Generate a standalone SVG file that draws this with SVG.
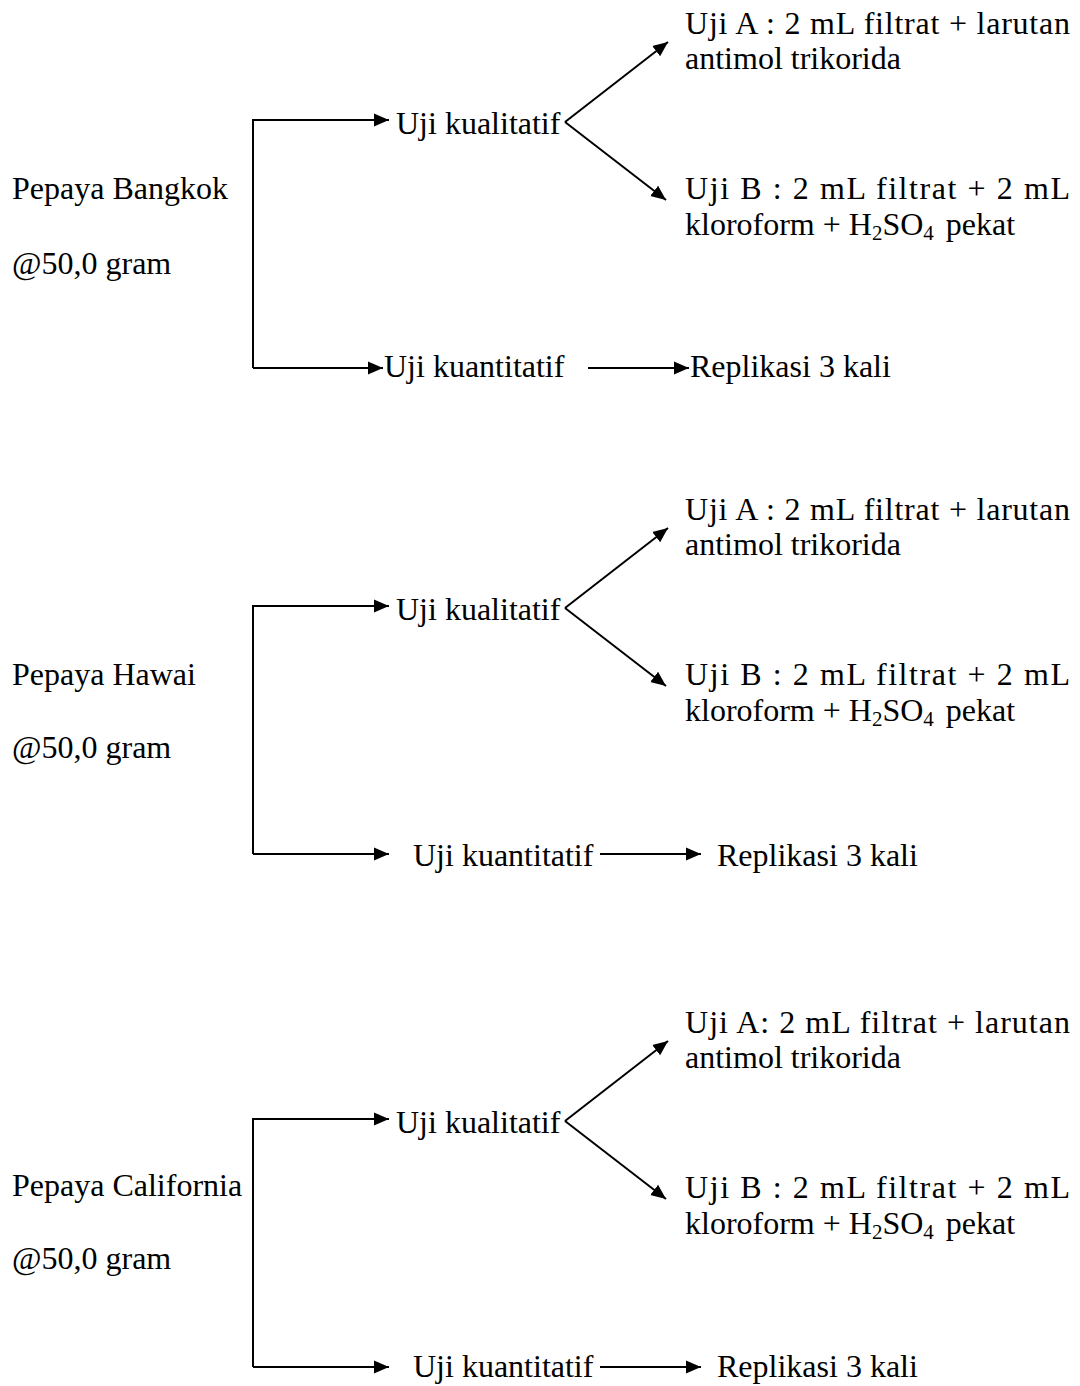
<svg xmlns="http://www.w3.org/2000/svg" width="1080" height="1386" viewBox="0 0 1080 1386">
<style>
text{font-family:"Liberation Serif","Times New Roman",serif;font-size:32px;fill:#000}
.sub{font-size:21px}
.c{fill:none;stroke:#000;stroke-width:2;marker-end:url(#ah)}
</style>
<defs>
<marker id="ah" markerUnits="userSpaceOnUse" markerWidth="16" markerHeight="14" refX="15" refY="7" orient="auto"><path d="M0,0.5 L15,7 L0,13.5 z" fill="#000"/></marker>
</defs>
<rect width="1080" height="1386" fill="#fff"/>

<!-- Panel 1 -->
<g id="panel1">
<g id="connectors1">
<path class="c" d="M253,368 V120 H389"/>
<path class="c" d="M253,368 H383"/>
<path class="c" d="M588,368 H689"/>
<path class="c" d="M565,122 L668,42"/>
<path class="c" d="M565,122 L666,200"/>
</g>
<g id="bangkok"><text x="12" y="199">Pepaya Bangkok</text><text x="12" y="274">@50,0 gram</text></g>
<g id="kualitatif1"><text x="396" y="134">Uji kualitatif</text></g>
<g id="ujiA1"><text x="685" y="34" textLength="385" lengthAdjust="spacing">Uji A : 2 mL filtrat + larutan</text><text x="685" y="69">antimol trikorida</text></g>
<g id="ujiB1"><text x="685" y="199" textLength="385" lengthAdjust="spacing">Uji B : 2 mL filtrat + 2 mL</text><text x="685" y="235">kloroform + H<tspan class="sub" dy="5">2</tspan><tspan dy="-5">SO</tspan><tspan class="sub" dy="5">4</tspan><tspan dy="-5" dx="12">pekat</tspan></text></g>
<g id="kuantitatif1"><text x="384" y="377">Uji kuantitatif</text></g>
<g id="replikasi1"><text x="690" y="377">Replikasi 3 kali</text></g>
</g>

<!-- Panel 2 -->
<g id="panel2" transform="translate(0,486)">
<g id="connectors2">
<path class="c" d="M253,368 V120 H389"/>
<path class="c" d="M253,368 H389"/>
<path class="c" d="M600,368 H701"/>
<path class="c" d="M565,122 L668,42"/>
<path class="c" d="M565,122 L666,200"/>
</g>
<g id="hawai"><text x="12" y="199">Pepaya Hawai</text><text x="12" y="272">@50,0 gram</text></g>
<g id="kualitatif2"><text x="396" y="134">Uji kualitatif</text></g>
<g id="ujiA2"><text x="685" y="34" textLength="385" lengthAdjust="spacing">Uji A : 2 mL filtrat + larutan</text><text x="685" y="69">antimol trikorida</text></g>
<g id="ujiB2"><text x="685" y="199" textLength="385" lengthAdjust="spacing">Uji B : 2 mL filtrat + 2 mL</text><text x="685" y="235">kloroform + H<tspan class="sub" dy="5">2</tspan><tspan dy="-5">SO</tspan><tspan class="sub" dy="5">4</tspan><tspan dy="-5" dx="12">pekat</tspan></text></g>
<g id="kuantitatif2"><text x="413" y="380">Uji kuantitatif</text></g>
<g id="replikasi2"><text x="717" y="380">Replikasi 3 kali</text></g>
</g>

<!-- Panel 3 -->
<g id="panel3" transform="translate(0,999)">
<g id="connectors3">
<path class="c" d="M253,368 V120 H389"/>
<path class="c" d="M253,368 H389"/>
<path class="c" d="M600,368 H701"/>
<path class="c" d="M565,122 L668,42"/>
<path class="c" d="M565,122 L666,200"/>
</g>
<g id="california"><text x="12" y="197">Pepaya California</text><text x="12" y="270">@50,0 gram</text></g>
<g id="kualitatif3"><text x="396" y="134">Uji kualitatif</text></g>
<g id="ujiA3"><text x="685" y="34" textLength="385" lengthAdjust="spacing">Uji A: 2 mL filtrat + larutan</text><text x="685" y="69">antimol trikorida</text></g>
<g id="ujiB3"><text x="685" y="199" textLength="385" lengthAdjust="spacing">Uji B : 2 mL filtrat + 2 mL</text><text x="685" y="235">kloroform + H<tspan class="sub" dy="5">2</tspan><tspan dy="-5">SO</tspan><tspan class="sub" dy="5">4</tspan><tspan dy="-5" dx="12">pekat</tspan></text></g>
<g id="kuantitatif3"><text x="413" y="378">Uji kuantitatif</text></g>
<g id="replikasi3"><text x="717" y="378">Replikasi 3 kali</text></g>
</g>
</svg>
